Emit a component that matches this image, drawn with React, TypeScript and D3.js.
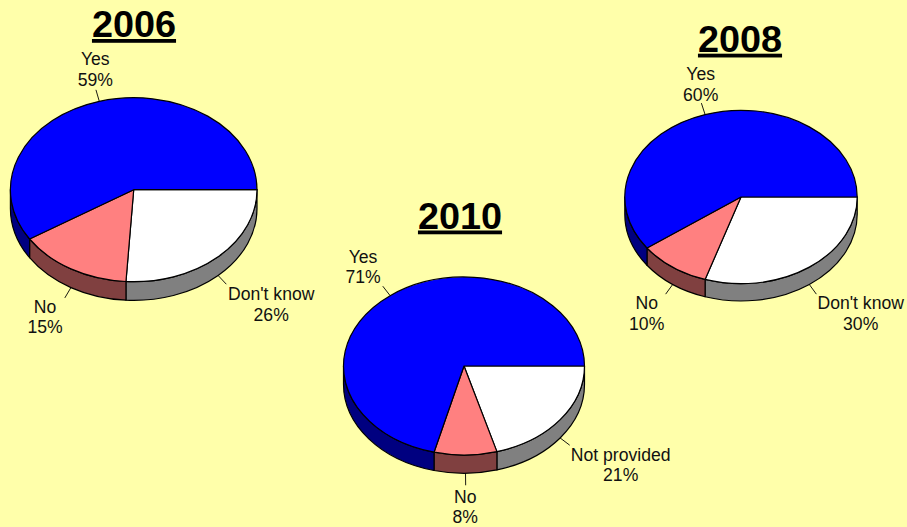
import React from "react";
import * as d3 from "d3";

const BACKGROUND = "#ffffaa";
const FONT = "'Liberation Sans', Arial, sans-serif";

const years = ["2006", "2008", "2010"];
const labels2006 = ["Don't know", "No", "Yes"];
const values2006 = [26, 15, 59];
const labels2008 = ["Don't know", "No", "Yes"];
const values2008 = [30, 10, 60];
const labels2010 = ["Not provided", "No", "Yes"];
const values2010 = [20.6, 8.4, 71];

const topColors = ["#ffffff", "#ff8080", "#0000ff"];
const sideColors = ["#808080", "#804040", "#000080"];

const chartData = [
  { labels: labels2006, values: values2006 },
  { labels: labels2008, values: values2008 },
  { labels: labels2010, values: values2010 },
];

// layout only: [cx, cy, rx, ry, depth, titleX, titleY]
const pieLayout = [
  [133.7, 189.7, 123.3, 92, 18.7, 134, 37],
  [741, 197, 116.2, 86.7, 17.3, 740, 51.7],
  [464, 366, 120.5, 89, 18.3, 460, 228.5],
];
// layout only: label centre x and first baseline y, per slice
const labelLayout = [
  [[271.2, 300], [45, 312.7], [95.3, 65]],
  [[860.7, 309], [646.7, 309], [700.7, 80]],
  [[620.7, 460.7], [465.3, 502.7], [363, 262.7]],
];

const UNIT = 100;
const pieGen = d3.pie<number>().sort(null).startAngle(Math.PI / 2).endAngle(Math.PI / 2 + 2 * Math.PI);
const arcGen = d3.arc<d3.PieArcDatum<number>>().innerRadius(0).outerRadius(UNIT);

function PieChart({ index }: { index: number }) {
  const { labels, values } = chartData[index];
  const [cx, cy, rx, ry, depth, titleX, titleY] = pieLayout[index];
  const slices = pieGen(values);
  const px = (t: number) => cx + rx * Math.cos(t);
  const py = (t: number) => cy + ry * Math.sin(t);
  const screen = (a: number) => a - Math.PI / 2;

  return (
    <g>
      <text
        x={titleX}
        y={titleY}
        textAnchor="middle"
        fontFamily={FONT}
        fontWeight="bold"
        fontSize={37.8}
        textDecoration="underline"
        fill="#000"
      >
        {years[index]}
      </text>
      {slices.map((s, i) => {
        const a0 = Math.max(screen(s.startAngle), 0);
        const a1 = Math.min(screen(s.endAngle), Math.PI);
        if (a1 <= a0) return null;
        const d =
          `M${px(a0)},${py(a0)}A${rx},${ry} 0 0 1 ${px(a1)},${py(a1)}` +
          `L${px(a1)},${py(a1) + depth}A${rx},${ry} 0 0 0 ${px(a0)},${py(a0) + depth}Z`;
        return <path key={i} d={d} fill={sideColors[i]} stroke="#000" strokeWidth={1.2} strokeLinejoin="round" />;
      })}
      {slices.map((s, i) => (
        <path
          key={i}
          d={arcGen(s) as string}
          transform={`translate(${cx},${cy}) scale(${rx / UNIT},${ry / UNIT})`}
          fill={topColors[i]}
          stroke="#000"
          strokeWidth={1.2}
          strokeLinejoin="round"
          vectorEffect="non-scaling-stroke"
        />
      ))}
      {slices.map((s, i) => {
        const mid = screen((s.startAngle + s.endAngle) / 2);
        const front = Math.sin(mid) > 0 ? depth : 0;
        const x0 = px(mid);
        const y0 = py(mid) + front;
        const [lx, ly] = labelLayout[index][i];
        return (
          <g key={i}>
            <line
              x1={x0}
              y1={y0}
              x2={x0 + 12 * Math.cos(mid)}
              y2={y0 + 12 * Math.sin(mid)}
              stroke="#000"
              strokeWidth={0.9}
            />
            <text textAnchor="middle" fontFamily={FONT} fontSize={17.6} fill="#111">
              <tspan x={lx} y={ly}>{labels[i]}</tspan>
              <tspan x={lx} y={ly + 20.7}>{`${Math.round(values[i])}%`}</tspan>
            </text>
          </g>
        );
      })}
    </g>
  );
}

export default function App() {
  return (
    <svg
      width={907}
      height={527}
      viewBox="0 0 907 527"
      style={{ position: "absolute", left: 0, top: 0, display: "block", background: BACKGROUND }}
    >
      {years.map((_, i) => (
        <PieChart key={i} index={i} />
      ))}
    </svg>
  );
}
